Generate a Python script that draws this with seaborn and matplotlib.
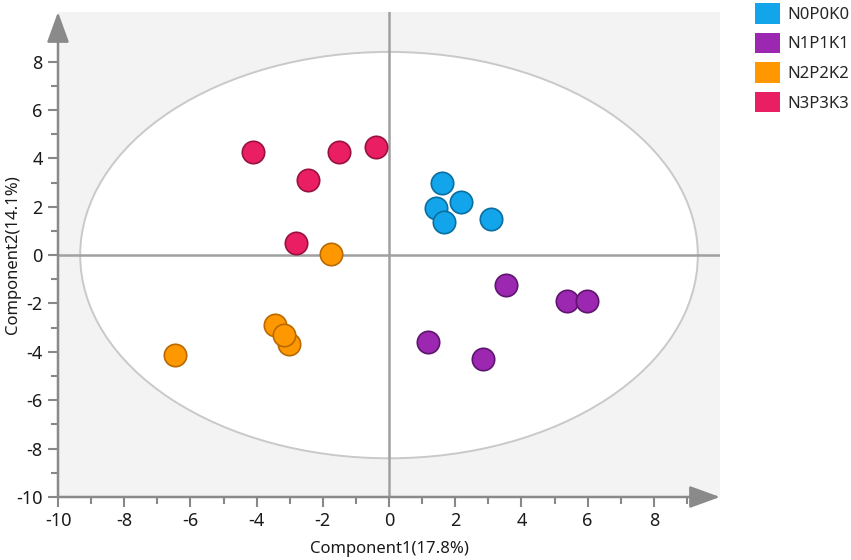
import matplotlib
matplotlib.use("Agg")
import matplotlib.pyplot as plt
import seaborn as sns
import pandas as pd
from matplotlib.patches import Ellipse, Patch

groups = ["N0P0K0", "N1P1K1", "N2P2K2", "N3P3K3"]
colors = ["#12a5ec", "#9c27b0", "#ff9800", "#e91e63"]
edges = ["#0a6e9e", "#5e1570", "#b86a00", "#99123f"]

comp1_n0 = [1.60, 2.17, 1.42, 1.66, 3.08]
comp2_n0 = [3.00, 2.20, 1.96, 1.38, 1.50]
comp1_n1 = [3.53, 5.38, 5.98, 1.18, 2.84]
comp2_n1 = [-1.23, -1.89, -1.89, -3.58, -4.28]
comp1_n2 = [-1.75, -3.44, -3.02, -3.17, -6.47]
comp2_n2 = [0.05, -2.88, -3.66, -3.30, -4.15]
comp1_n3 = [-4.11, -2.45, -1.51, -0.39, -2.81]
comp2_n3 = [4.27, 3.11, 4.27, 4.48, 0.51]

xticks = [-10, -8, -6, -4, -2, 0, 2, 4, 6, 8]
yticks = [-10, -8, -6, -4, -2, 0, 2, 4, 6, 8]

sns.set_theme(style="white")
plt.rcParams['font.family'] = ['Noto Sans', 'DejaVu Sans']
plt.rcParams['axes.unicode_minus'] = False

fig = plt.figure(figsize=(8.51, 5.60), dpi=100)
ax = fig.add_axes([58/851, 1-497/560, (720-58)/851, (497-12)/560])
ax.set_facecolor("#f3f3f3")

ax.add_patch(Ellipse((0, 0), 18.66, 16.8, facecolor="white", edgecolor="#c9c9c9", lw=1.4, zorder=1))
ax.axhline(0, color="#a0a0a0", lw=1.8, zorder=2)
ax.axvline(0, color="#a0a0a0", lw=1.8, zorder=2)

xs = [comp1_n0, comp1_n1, comp1_n2, comp1_n3]
ys = [comp2_n0, comp2_n1, comp2_n2, comp2_n3]
for g, c, e, x, y in zip(groups, colors, edges, xs, ys):
    df = pd.DataFrame({"Component1": x, "Component2": y})
    sns.scatterplot(data=df, x="Component1", y="Component2", ax=ax, color=c,
                    edgecolor=e, linewidth=1.2, s=260, zorder=3, legend=False)

ax.set_xlim(-10, 10)
ax.set_ylim(-10, 10.05)
ax.set_xticks(xticks)
ax.set_yticks(yticks)
ax.set_xticks([v + 1 for v in xticks], minor=True)
ax.set_yticks([v + 1 for v in yticks[:-1]], minor=True)
for s in ax.spines.values():
    s.set_visible(False)
ax.tick_params(axis="both", which="major", length=7, width=1.5, color="#888888",
               labelsize=13, labelcolor="#1a1a1a", direction="out", bottom=True, left=True, pad=4)
ax.tick_params(axis="both", which="minor", length=5, width=1.5, color="#888888",
               direction="out", bottom=True, left=True)

ax.annotate("", xy=(1.0, 0), xytext=(0, 0), xycoords="axes fraction",
            arrowprops=dict(arrowstyle="-|>,head_length=1.1,head_width=0.4", color="#8a8a8a",
                            lw=1.8, shrinkA=0, shrinkB=0, mutation_scale=17), annotation_clip=False)
ax.annotate("", xy=(0, 1.0), xytext=(0, 0), xycoords="axes fraction",
            arrowprops=dict(arrowstyle="-|>,head_length=1.1,head_width=0.4", color="#8a8a8a",
                            lw=1.8, shrinkA=0, shrinkB=0, mutation_scale=17), annotation_clip=False)

ax.set_xlabel("Component1(17.8%)", fontsize=12, color="#1a1a1a", labelpad=8)
ax.set_ylabel("Component2(14.1%)", fontsize=12, color="#1a1a1a")
ax.yaxis.set_label_coords(-0.056, 0.5)

handles = [Patch(facecolor=c, edgecolor="none") for c in colors]
fig.legend(handles, groups, loc="upper left", bbox_to_anchor=(752/851, 1.0), frameon=False,
           fontsize=12, handlelength=1.5, handleheight=1.5, handletextpad=0.4, labelspacing=0.55,
           borderaxespad=0, borderpad=0.2)

fig.savefig("out.png", dpi=100)
